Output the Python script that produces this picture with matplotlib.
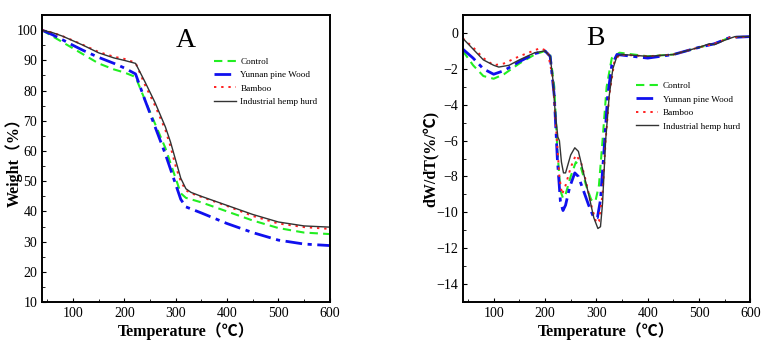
import numpy as np
import matplotlib.pyplot as plt
from matplotlib.ticker import MultipleLocator

plt.rcParams['font.family'] = ['Liberation Serif', 'Noto Sans CJK SC', 'DejaVu Sans']
plt.rcParams['mathtext.fontset'] = 'stix'

# TG curves (panel A)
tg_t_hemp = [40, 60, 80, 100, 120, 150, 180, 200, 222, 240, 260, 280, 290, 300, 310, 320, 330, 350, 400, 450, 500, 550, 600]
tg_hemp = [100, 99.2, 98, 96.5, 95, 92.5, 90.8, 90, 89, 83, 76, 68, 63, 57, 51, 47.5, 46.3, 45, 42, 39, 36.5, 35.2, 34.8]
tg_t_bamboo = [40, 60, 80, 100, 120, 150, 180, 200, 222, 240, 260, 280, 290, 300, 310, 320, 330, 350, 400, 450, 500, 550, 600]
tg_bamboo = [100, 99.2, 98, 96.6, 95.1, 92.8, 91.2, 90.5, 89.2, 82, 75, 67, 61.5, 55, 50, 47, 46, 44.8, 41.8, 38.5, 36, 34.8, 34.2]
tg_t_control = [40, 60, 80, 100, 120, 150, 180, 200, 222, 240, 260, 280, 300, 310, 320, 350, 400, 450, 500, 550, 600]
tg_control = [100, 98, 96, 94, 92, 89, 87, 86, 84.5, 77, 69, 61, 51, 46, 44.5, 43, 40, 37, 34.5, 33, 32.5]
tg_t_pine = [40, 60, 80, 100, 120, 150, 180, 200, 222, 240, 260, 280, 300, 310, 320, 350, 400, 450, 500, 550, 600]
tg_pine = [100, 98.5, 96.8, 95, 93.3, 91, 89, 87.5, 85.5, 77, 68, 59, 49, 44, 41.5, 39.5, 36, 33, 30.5, 29.2, 28.7]

# DTG curves (panel B)
dtg_t_hemp = [40, 60, 80, 100, 110, 130, 150, 180, 200, 210, 215, 220, 225, 228, 232, 236, 240, 245, 250, 258, 265, 275, 285, 295, 303, 308, 312, 318, 325, 332, 340, 350, 400, 450, 500, 520, 530, 550, 570, 600]
dtg_hemp = [-0.3, -0.9, -1.5, -1.8, -1.9, -1.8, -1.5, -1.1, -1.0, -1.3, -2.5, -4.5, -5.8, -6.0, -7.2, -7.8, -7.8, -7.3, -6.8, -6.4, -6.6, -7.8, -9.0, -10.3, -10.9, -10.8, -9.5, -6.0, -3.5, -2.0, -1.3, -1.2, -1.3, -1.2, -0.8, -0.6, -0.65, -0.4, -0.2, -0.2]
dtg_t_bamboo = [40, 60, 80, 100, 120, 150, 190, 205, 215, 222, 228, 233, 240, 250, 260, 270, 280, 290, 300, 305, 312, 318, 325, 335, 345, 400, 450, 500, 530, 560, 600]
dtg_bamboo = [-0.3, -0.8, -1.4, -1.8, -1.7, -1.3, -0.85, -1.0, -2.5, -5.5, -8.0, -9.0, -8.5, -7.5, -6.8, -7.2, -8.3, -9.6, -10.6, -10.5, -9.0, -6.0, -3.5, -1.6, -1.2, -1.3, -1.2, -0.8, -0.6, -0.25, -0.2]
dtg_t_control = [40, 60, 80, 100, 120, 150, 180, 200, 210, 218, 224, 230, 235, 240, 250, 260, 270, 280, 290, 298, 305, 312, 320, 330, 345, 400, 450, 500, 530, 560, 600]
dtg_control = [-1.0, -1.8, -2.4, -2.55, -2.3, -1.7, -1.2, -1.0, -1.2, -3.0, -6.5, -8.8, -9.2, -9.0, -8.0, -7.2, -7.5, -8.5, -9.3, -9.4, -8.5, -6.0, -3.0, -1.4, -1.1, -1.3, -1.2, -0.8, -0.6, -0.25, -0.2]
dtg_t_pine = [40, 60, 80, 100, 120, 150, 180, 200, 210, 218, 224, 230, 235, 240, 248, 258, 265, 275, 285, 295, 302, 308, 315, 322, 330, 340, 400, 450, 500, 530, 560, 600]
dtg_pine = [-0.9, -1.4, -2.0, -2.3, -2.1, -1.6, -1.15, -1.0, -1.3, -3.5, -7.0, -9.4, -9.9, -9.6, -8.6, -7.8, -8.0, -8.8, -9.6, -10.3, -10.3, -9.3, -6.5, -3.5, -1.8, -1.2, -1.4, -1.2, -0.8, -0.6, -0.25, -0.2]

labels = ['Control', 'Yunnan pine Wood', 'Bamboo', 'Industrial hemp hurd']
colors = ['#22ee22', '#1010ee', '#ff2020', '#333333']
styles = [(0, (4, 2.5)), (0, (6, 2, 1.5, 2)), (0, (1.2, 2.5)), '-']
widths = [1.5, 2.0, 1.4, 1.0]

fig = plt.figure(figsize=(7.65, 3.5), dpi=100)
axA = fig.add_axes([0.055, 0.137, 0.376, 0.82])
axB = fig.add_axes([0.605, 0.137, 0.376, 0.82])

tgs = [(tg_t_control, tg_control), (tg_t_pine, tg_pine), (tg_t_bamboo, tg_bamboo), (tg_t_hemp, tg_hemp)]
dtgs = [(dtg_t_control, dtg_control), (dtg_t_pine, dtg_pine), (dtg_t_bamboo, dtg_bamboo), (dtg_t_hemp, dtg_hemp)]

for i in range(4):
    axA.plot(tgs[i][0], tgs[i][1], color=colors[i], linestyle=styles[i], lw=widths[i], label=labels[i])
    axB.plot(dtgs[i][0], dtgs[i][1], color=colors[i], linestyle=styles[i], lw=widths[i], label=labels[i])

axA.set_xlim(40, 600)
axA.set_ylim(10, 105)
axA.set_yticks(range(10, 101, 10))
axA.yaxis.set_minor_locator(MultipleLocator(5))
axA.set_ylabel('Weight（%）', fontsize=11.5, fontweight='bold')
axA.yaxis.set_label_coords(-0.068, 0.5)
axA.text(0.5, 0.91, 'A', transform=axA.transAxes, fontsize=20, ha='center', va='center')
axA.legend(loc='upper left', bbox_to_anchor=(0.575, 0.875), frameon=False, fontsize=6.6,
           handlelength=2.4, handletextpad=0.5, labelspacing=0.55, borderpad=0.2)

axB.set_xlim(40, 600)
axB.set_ylim(-15, 1)
axB.set_yticks(range(-14, 1, 2))
axB.yaxis.set_minor_locator(MultipleLocator(1))
axB.set_ylabel('dW/dT(%/℃)', fontsize=11.5, fontweight='bold')
axB.yaxis.set_label_coords(-0.08, 0.5)
axB.text(0.46, 0.92, 'B', transform=axB.transAxes, fontsize=20, ha='center', va='center')
axB.legend(loc='upper left', bbox_to_anchor=(0.58, 0.79), frameon=False, fontsize=6.6,
           handlelength=2.4, handletextpad=0.5, labelspacing=0.55, borderpad=0.2)

for ax in [axA, axB]:
    ax.set_xticks([100, 200, 300, 400, 500, 600])
    ax.xaxis.set_minor_locator(MultipleLocator(50))
    ax.set_xlabel('Temperature（℃）', fontsize=11.5, fontweight='bold', labelpad=2)
    ax.tick_params(axis='both', which='major', direction='in', length=3, labelsize=10, top=False, right=False)
    ax.tick_params(axis='both', which='minor', direction='in', length=2, top=False, right=False)
    for s in ax.spines.values():
        s.set_linewidth(1.4)

fig.savefig('out.png', dpi=100)
